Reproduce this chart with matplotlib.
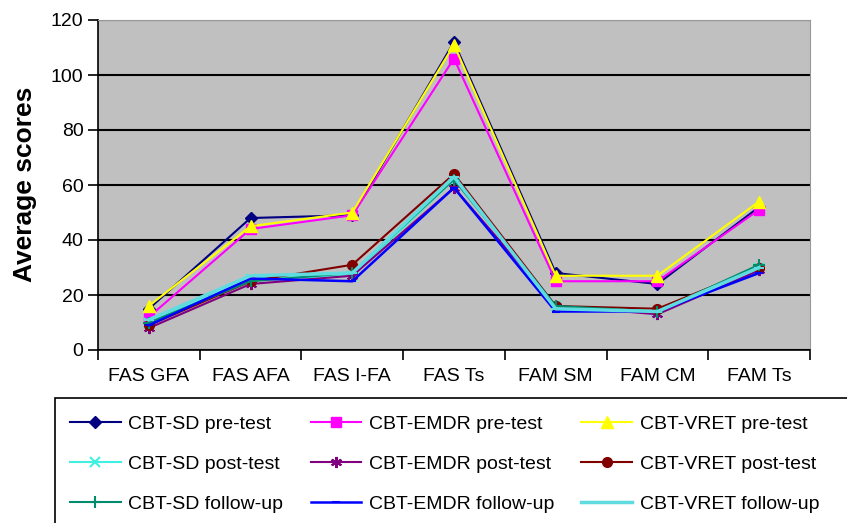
import matplotlib
matplotlib.use('Agg')
from matplotlib import pyplot as plt
from matplotlib.patches import Rectangle

plt.rcParams['font.family'] = ['Liberation Sans', 'DejaVu Sans']

# categories on the x axis
categories = ['FAS GFA', 'FAS AFA', 'FAS I-FA', 'FAS Ts', 'FAM SM', 'FAM CM', 'FAM Ts']

# average scores
sd_pre = [15, 48, 49, 112, 28, 24, 52]
emdr_pre = [12, 44, 49, 106, 25, 25, 51]
vret_pre = [16, 45, 50, 111, 27, 27, 54]
sd_post = [10, 26, 27, 62, 16, 14, 30]
emdr_post = [8, 24, 27, 59, 16, 13, 29]
vret_post = [9, 25, 31, 64, 16, 15, 30]
sd_follow = [10, 25, 28, 62, 16, 14, 31]
emdr_follow = [9, 26, 25, 59, 14, 14, 28]
vret_follow = [11, 27, 28, 63, 15, 14, 30]

labels = ['CBT-SD pre-test', 'CBT-EMDR pre-test', 'CBT-VRET pre-test',
          'CBT-SD post-test', 'CBT-EMDR post-test', 'CBT-VRET post-test',
          'CBT-SD follow-up', 'CBT-EMDR follow-up', 'CBT-VRET follow-up']
series = [sd_pre, emdr_pre, vret_pre, sd_post, emdr_post, vret_post,
          sd_follow, emdr_follow, vret_follow]
colors = ['#000080', '#FF00FF', '#FFFF00', '#40F0E0', '#800080', '#800000',
          '#008C6C', '#0000FF', '#60DCE0']
markers = ['D', 's', '^', 'x', (6, 2, 0), 'o', '+', '_', '_']
msizes = [6, 7, 9, 7, 8, 7, 9, 6, 7]
lwidths = [1.5, 1.5, 1.5, 1.5, 1.5, 1.5, 1.5, 1.8, 2.5]

fig = plt.figure(figsize=(8.47, 5.23), dpi=100)
ax = fig.add_axes([98/847, 1-350/523, (810-98)/847, (350-20)/523])
ax.set_facecolor('#C0C0C0')

x = list(range(len(categories)))
for s, lab, c, m, ms, lw in zip(series, labels, colors, markers, msizes, lwidths):
    ax.plot(x, s, color=c, marker=m, markersize=ms, linewidth=lw,
            markeredgewidth=1.5 if m in ('x', '+', '_') or isinstance(m, tuple) else 1,
            markeredgecolor=c, label=lab)

ax.set_xlim(-0.5, len(categories) - 0.5)
ax.set_ylim(0, 120)
ax.set_yticks(range(0, 121, 20))
ax.yaxis.grid(True, color='black', linewidth=1.5)
ax.set_axisbelow(True)

# category labels centred, tick marks on the boundaries
ax.set_xticks(x)
ax.set_xticklabels(categories, fontsize=14)
ax.tick_params(axis='x', length=0, pad=13)
ax.set_xticks([i - 0.5 for i in range(len(categories) + 1)], minor=True)
ax.tick_params(axis='x', which='minor', length=7, width=1.2, color='black', direction='out')
ax.tick_params(axis='y', labelsize=14, length=7, width=1.2, direction='out')

for side in ['top', 'right']:
    ax.spines[side].set_color('#999999')
for side in ['left', 'bottom']:
    ax.spines[side].set_color('black')
    ax.spines[side].set_linewidth(1.2)

fig.text(25/847, 1-184/523, 'Average scores', rotation=90, fontsize=19,
         fontweight='bold', ha='center', va='center')

# legend box runs off the figure edge
fig.patches.append(Rectangle((55/847, -0.1), 1.0, 0.1 + 1-398/523, transform=fig.transFigure,
                             facecolor='white', edgecolor='black', linewidth=1.2))
handles, labs = ax.get_legend_handles_labels()
# legend reads row by row, matplotlib fills column by column
order = [0, 3, 6, 1, 4, 7, 2, 5, 8]
fig.legend([handles[i] for i in order], [labs[i] for i in order], ncol=3,
           loc='upper left', bbox_to_anchor=(70/847, 1-415/523),
           frameon=False, fontsize=14, handlelength=2.6, handletextpad=0.4,
           columnspacing=1.4, labelspacing=1.15, borderpad=0, borderaxespad=0)

fig.savefig('out.png', dpi=100)
